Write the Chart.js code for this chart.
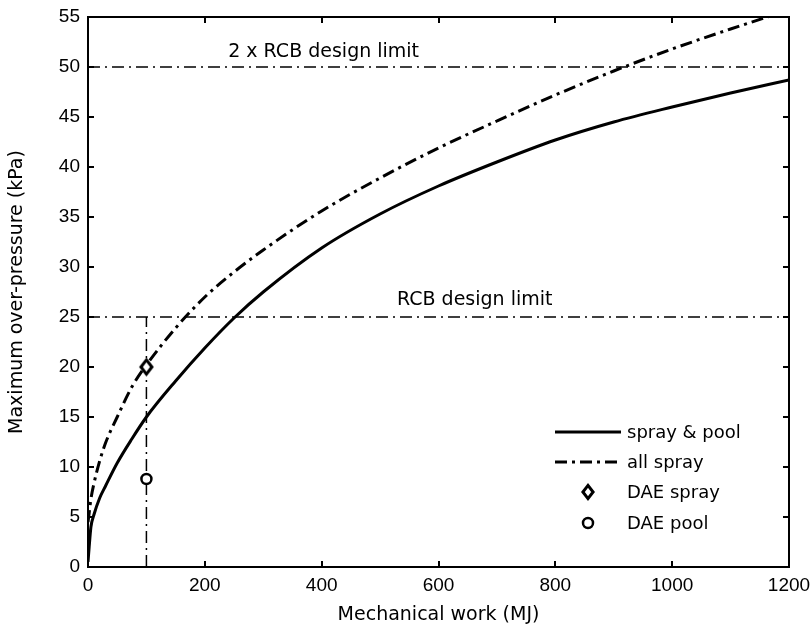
<!DOCTYPE html>
<html>
<head>
<meta charset="utf-8">
<script src="https://cdn.jsdelivr.net/npm/chart.js@4/dist/chart.umd.min.js"></script>
<style>
  html, body { margin: 0; padding: 0; background: #fff; }
  #wrap { width: 812px; height: 627px; }
</style>
</head>
<body>
<div id="wrap"><canvas id="c" width="812" height="627"></canvas></div>
<script>
// ---- data ----
const workMJ    = [0, 2, 5, 10, 20, 30, 50, 75, 100, 150, 200, 250, 300, 400, 500, 600, 700, 800, 900, 1000, 1100, 1200];
const sprayPool = [0.5, 2.0, 4.0, 5.2, 6.9, 8.1, 10.4, 12.8, 15.0, 18.6, 21.9, 24.9, 27.5, 31.9, 35.3, 38.1, 40.5, 42.7, 44.5, 46.0, 47.4, 48.7];
const allSpray  = [4.5, 5.4, 6.8, 8.3, 10.6, 12.4, 15.0, 18.0, 20.2, 23.9, 27.0, 29.5, 31.7, 35.6, 38.9, 41.9, 44.6, 47.2, 49.6, 51.8, 53.8, 55.7];
const daeWork = 100;
const daeSpray = 20;
const daePool = 8.8;
const rcbLimit = 25;
const rcbLimit2x = 50;
const xTicks = [0, 200, 400, 600, 800, 1000, 1200];
const yTicks = [0, 5, 10, 15, 20, 25, 30, 35, 40, 45, 50, 55];
const seriesLabels = ['spray & pool', 'all spray', 'DAE spray', 'DAE pool'];
const limitLabels = ['2 x RCB design limit', 'RCB design limit'];

const pts = (xs, ys) => xs.map((x, i) => ({ x: x, y: ys[i] }));
const DASHDOT_THIN = [12, 5, 2, 5];
const DASHDOT_THICK = [12, 5, 3, 5];
const TEXT_FONT = '"DejaVu Sans", sans-serif';
const TICK_FONT = '"Liberation Sans", Arial, sans-serif';

function drawMarker(ctx, style, x, y, r, lw) {
  ctx.save();
  ctx.lineWidth = lw || 2.5;
  ctx.strokeStyle = '#000';
  ctx.fillStyle = '#fff';
  ctx.setLineDash([]);
  ctx.beginPath();
  if (style === 'diamond') {
    ctx.moveTo(x, y - r * 1.1);
    ctx.lineTo(x + r * 0.85, y);
    ctx.lineTo(x, y + r * 1.1);
    ctx.lineTo(x - r * 0.85, y);
    ctx.closePath();
  } else {
    ctx.arc(x, y, r, 0, Math.PI * 2);
  }
  ctx.fill();
  ctx.stroke();
  ctx.restore();
}

function markerCanvas(style, r, lw) {
  const c = document.createElement('canvas');
  const s = Math.ceil(r * 2.2 + 8);
  c.width = s; c.height = s;
  drawMarker(c.getContext('2d'), style, s / 2, s / 2, r, lw);
  return c;
}
const diamondImg = markerCanvas('diamond', 6.5, 3);

const datasets = [
  { label: 'limit2x', data: [{x: xTicks[0], y: rcbLimit2x}, {x: xTicks[xTicks.length-1], y: rcbLimit2x}],
    borderColor: '#000', borderWidth: 1.5, borderDash: DASHDOT_THIN, pointRadius: 0, order: 5, inLegend: false },
  { label: 'limit', data: [{x: xTicks[0], y: rcbLimit}, {x: xTicks[xTicks.length-1], y: rcbLimit}],
    borderColor: '#000', borderWidth: 1.5, borderDash: DASHDOT_THIN, pointRadius: 0, order: 5, inLegend: false },
  { label: 'dae', data: [{x: daeWork, y: 0}, {x: daeWork, y: rcbLimit}],
    borderColor: '#000', borderWidth: 1.5, borderDash: DASHDOT_THIN, pointRadius: 0, order: 5, inLegend: false },
  { label: seriesLabels[0], data: pts(workMJ, sprayPool), borderColor: '#000', borderWidth: 3,
    pointRadius: 0, cubicInterpolationMode: 'monotone', order: 3, inLegend: true },
  { label: seriesLabels[1], data: pts(workMJ, allSpray), borderColor: '#000', borderWidth: 3,
    borderDash: DASHDOT_THICK, pointRadius: 0, cubicInterpolationMode: 'monotone', order: 3, inLegend: true },
  { label: seriesLabels[2], data: [{x: daeWork, y: daeSpray}], showLine: false, pointStyle: diamondImg, markerKind: 'diamond',
    pointRadius: 7, borderColor: '#000', backgroundColor: '#fff', pointBorderWidth: 3, order: 1, inLegend: true },
  { label: seriesLabels[3], data: [{x: daeWork, y: daePool}], showLine: false, pointStyle: 'circle', markerKind: 'circle',
    pointRadius: 5, borderColor: '#000', backgroundColor: '#fff', pointBorderWidth: 2.5, order: 1, inLegend: true }
];

const framePlugin = {
  id: 'frame',
  afterDatasetsDraw(chart) {
    const ctx = chart.ctx;
    const a = chart.chartArea;
    const xs = chart.scales.x, ys = chart.scales.y;
    ctx.save();
    ctx.strokeStyle = '#000';
    ctx.lineWidth = 2;
    ctx.setLineDash([]);
    ctx.strokeRect(a.left, a.top, a.right - a.left, a.bottom - a.top);
    const tl = 6;
    ctx.beginPath();
    xTicks.forEach(v => {
      const px = Math.round(xs.getPixelForValue(v));
      ctx.moveTo(px, a.bottom); ctx.lineTo(px, a.bottom - tl);
      ctx.moveTo(px, a.top); ctx.lineTo(px, a.top + tl);
    });
    yTicks.forEach(v => {
      const py = Math.round(ys.getPixelForValue(v));
      ctx.moveTo(a.left, py); ctx.lineTo(a.left + tl, py);
      ctx.moveTo(a.right, py); ctx.lineTo(a.right - tl, py);
    });
    ctx.stroke();

    ctx.fillStyle = '#000';
    ctx.font = '19px ' + TEXT_FONT;
    ctx.textAlign = 'left';
    ctx.textBaseline = 'alphabetic';
    ctx.fillText(limitLabels[0], xs.getPixelForValue(240), ys.getPixelForValue(rcbLimit2x + 1.05));
    ctx.fillText(limitLabels[1], xs.getPixelForValue(529), ys.getPixelForValue(rcbLimit + 1.2));

    const legendItems = chart.data.datasets.filter(d => d.inLegend);
    const x0 = 555, x1 = 621, xt = 627, xm = 588;
    const rows = [432, 462, 492, 523];
    ctx.font = '18px ' + TEXT_FONT;
    ctx.textBaseline = 'middle';
    legendItems.forEach((d, i) => {
      const y = rows[i];
      if (d.showLine === false) {
        drawMarker(ctx, d.markerKind, xm, y, d.markerKind === 'diamond' ? 6 : 5, d.markerKind === 'diamond' ? 3 : 2.5);
      } else {
        ctx.save();
        ctx.lineWidth = d.borderWidth;
        ctx.setLineDash(d.borderDash || []);
        ctx.beginPath();
        ctx.moveTo(x0, y); ctx.lineTo(x1, y);
        ctx.stroke();
        ctx.restore();
      }
      ctx.fillStyle = '#000';
      ctx.fillText(d.label, xt, y + 1);
    });
    ctx.restore();
  }
};

new Chart(document.getElementById('c'), {
  type: 'line',
  data: { datasets: datasets },
  options: {
    responsive: false,
    animation: false,
    devicePixelRatio: 1,
    layout: { padding: { top: 17, right: 23, left: 0, bottom: 0 } },
    plugins: { legend: { display: false }, tooltip: { enabled: false } },
    scales: {
      x: {
        type: 'linear', min: 0, max: 1200,
        afterFit: s => { s.height = 60; s.paddingRight = 0; s.paddingLeft = 0; },
        afterBuildTicks: s => { s.ticks = xTicks.map(v => ({ value: v })); },
        grid: { display: false, drawTicks: false },
        border: { display: true, color: '#000', width: 2 },
        ticks: { color: '#000', padding: 7, font: { family: TICK_FONT, size: 19 }, maxRotation: 0,
                 callback: v => String(v) },
        title: { display: true, text: 'Mechanical work (MJ)', color: '#000',
                 font: { family: TEXT_FONT, size: 19 }, padding: { top: 0, bottom: 1 } }
      },
      y: {
        type: 'linear', min: 0, max: 55,
        afterFit: s => { s.width = 88; s.paddingTop = 0; s.paddingBottom = 0; },
        afterBuildTicks: s => { s.ticks = yTicks.map(v => ({ value: v })); },
        grid: { display: false, drawTicks: false },
        border: { display: true, color: '#000', width: 2 },
        ticks: { color: '#000', padding: 8, font: { family: TICK_FONT, size: 19 }, callback: v => String(v) },
        title: { display: true, text: 'Maximum over-pressure (kPa)', color: '#000',
                 font: { family: TEXT_FONT, size: 19 }, padding: { top: 6, bottom: 0 } }
      }
    }
  },
  plugins: [framePlugin]
});
</script>
</body>
</html>
